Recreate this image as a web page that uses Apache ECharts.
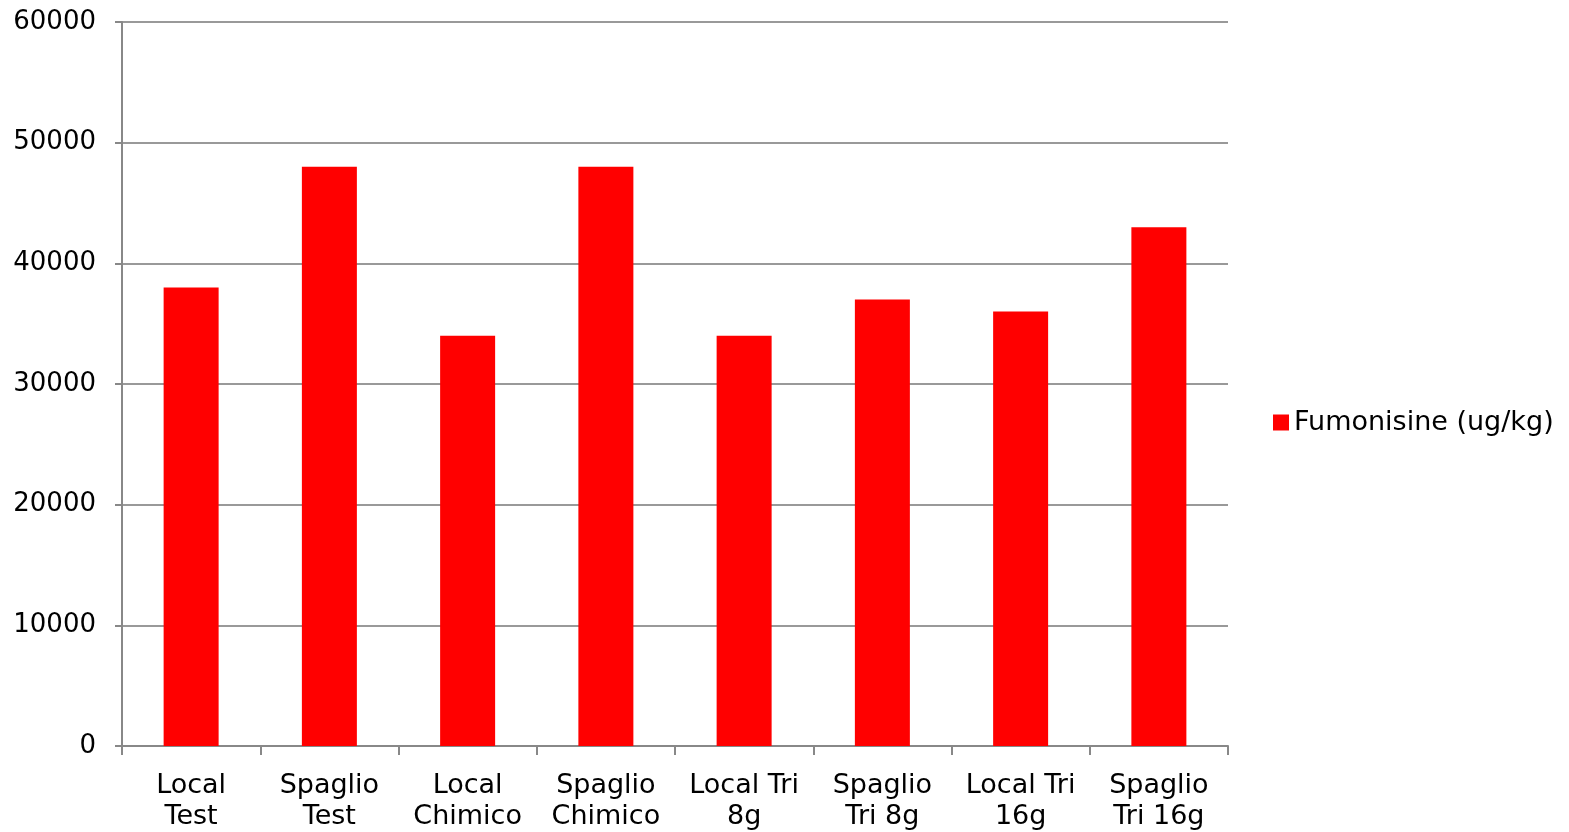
<!DOCTYPE html>
<html>
<head>
<meta charset="utf-8">
<script src="https://cdn.jsdelivr.net/npm/echarts@6/dist/echarts.min.js"></script>
<style>
  html, body { margin: 0; padding: 0; background: #fff; }
  #chart { width: 1569px; height: 832px; }
</style>
</head>
<body>
<div id="chart"></div>
<script>
// Fumonisin content per treatment
const categories = [
  'Local\nTest', 'Spaglio\nTest', 'Local\nChimico', 'Spaglio\nChimico',
  'Local Tri\n8g', 'Spaglio\nTri 8g', 'Local Tri\n16g', 'Spaglio\nTri 16g'
];
const seriesName = 'Fumonisine (ug/kg)';
const fumonisine = [38000, 48000, 34000, 48000, 34000, 37000, 36000, 43000];
const yTicks = { min: 0, max: 60000, interval: 10000 };

const font = 'DejaVu Sans, Verdana, sans-serif';
const chart = echarts.init(document.getElementById('chart'), null, { renderer: 'canvas' });
chart.setOption({
  animation: false,
  backgroundColor: '#fff',
  grid: { left: 122, right: 341, top: 22, bottom: 86, containLabel: false },
  legend: {
    data: [seriesName],
    orient: 'vertical',
    left: 1268,
    top: 404,
    itemWidth: 16,
    itemHeight: 16,
    icon: 'rect',
    itemGap: 0,
    textStyle: { fontFamily: font, fontSize: 27, color: '#000', padding: [0, 0, 0, 0] }
  },
  xAxis: {
    type: 'category',
    data: categories,
    axisLine: { lineStyle: { color: '#888', width: 2 } },
    axisTick: { show: true, length: 9, interval: 0, lineStyle: { color: '#888', width: 2 } },
    axisLabel: {
      interval: 0, margin: 24, fontFamily: font, fontSize: 27, color: '#000', lineHeight: 31
    },
    splitLine: { show: false }
  },
  yAxis: {
    type: 'value',
    min: yTicks.min,
    max: yTicks.max,
    interval: yTicks.interval,
    axisLine: { show: true, lineStyle: { color: '#888', width: 2 } },
    axisTick: { show: true, length: 7, lineStyle: { color: '#888', width: 2 } },
    axisLabel: {
      margin: 26, fontFamily: font, fontSize: 26, color: '#000',
      formatter: v => String(v)
    },
    splitLine: { show: true, lineStyle: { color: '#999', width: 2 } }
  },
  series: [{
    name: seriesName,
    type: 'bar',
    data: fumonisine,
    barWidth: 55,
    itemStyle: { color: '#ff0000' }
  }]
});
</script>
</body>
</html>
